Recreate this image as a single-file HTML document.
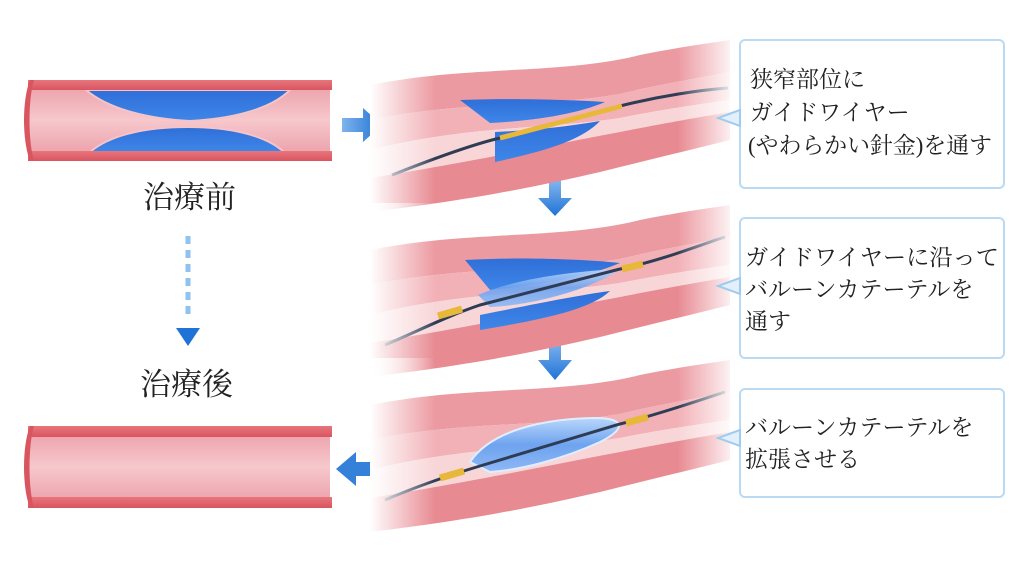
<!DOCTYPE html>
<html><head><meta charset="utf-8"><style>
body{margin:0;background:#fff;}
svg{display:block}
.t{font-family:"Liberation Serif","Noto Serif CJK SC","Noto Sans CJK JP",serif;fill:#222;}
</style></head><body>
<svg width="1024" height="568" viewBox="0 0 1024 568" xmlns="http://www.w3.org/2000/svg">
<defs>
<linearGradient id="wall" x1="0" y1="0" x2="0" y2="1"><stop offset="0" stop-color="#e8757c"/><stop offset="1" stop-color="#d95560"/></linearGradient>
<linearGradient id="lumen" x1="0" y1="0" x2="0" y2="1"><stop offset="0" stop-color="#eb9aa5"/><stop offset="0.5" stop-color="#f6c8cc"/><stop offset="1" stop-color="#eb9aa5"/></linearGradient>
<linearGradient id="plq" x1="0" y1="0" x2="0" y2="1"><stop offset="0" stop-color="#2f6fd8"/><stop offset="1" stop-color="#3f86e8"/></linearGradient>
<linearGradient id="fadeL" x1="0" y1="0" x2="1" y2="0"><stop offset="0" stop-color="#fff" stop-opacity="1"/><stop offset="0.18" stop-color="#fff" stop-opacity="0"/><stop offset="0.85" stop-color="#fff" stop-opacity="0"/><stop offset="1" stop-color="#fff" stop-opacity="0.9"/></linearGradient>
<linearGradient id="arr" x1="0" y1="0" x2="1" y2="0"><stop offset="0" stop-color="#7fb3ea"/><stop offset="1" stop-color="#1f73d6"/></linearGradient>
<linearGradient id="arrD" x1="0" y1="0" x2="0" y2="1"><stop offset="0" stop-color="#8fbdf0"/><stop offset="1" stop-color="#1f73d6"/></linearGradient>
<linearGradient id="bal" x1="0" y1="0" x2="0" y2="1"><stop offset="0" stop-color="#b9d6fb"/><stop offset="0.5" stop-color="#6ea3ef"/><stop offset="1" stop-color="#8fb8f5"/></linearGradient>
<g id="vessel">
  <path d="M370 85 C470 65 560 75 640 55 C680 47 710 43 730 40 L730 72 C700 78 660 84 620 94 C540 108 470 100 370 120 Z" fill="#ec9aa1"/>
  <path d="M370 120 C470 100 540 108 620 94 C660 84 700 78 730 72 L730 100 C700 104 660 110 620 118 C540 130 470 125 370 150 Z" fill="#f2b1b7"/>
  <path d="M370 150 C470 125 540 130 620 118 C660 110 700 104 730 100 L730 112 C700 117 660 124 620 132 C540 147 470 162 370 178 Z" fill="#f8d6d8"/>
  <path d="M370 178 C470 162 540 147 620 132 C660 124 700 117 730 112 L730 140 C690 150 640 162 600 172 C530 188 470 200 370 212 Z" fill="#e88a92"/>
</g>
</defs>

<!-- left top vessel -->
<rect x="28" y="80" width="302" height="80" fill="url(#lumen)"/>
<path d="M86 90 L290 90 C270 110 230 119 190 121 C150 119 110 110 86 90 Z" fill="url(#plq)" stroke="#f5c4c9" stroke-width="2"/>
<path d="M90 152 L284 152 C265 135 230 127 188 127 C145 127 110 135 90 152 Z" fill="url(#plq)" stroke="#f5c4c9" stroke-width="2"/>
<rect x="28" y="80" width="304" height="10" fill="url(#wall)"/>
<rect x="28" y="151" width="304" height="10" fill="url(#wall)"/>
<path d="M30 80 C22 100 22 140 30 161 L34 161 C28 140 28 100 34 80 Z" fill="#d9555f"/>
<text class="t" x="143" y="208" font-size="31">治療前</text>
<line x1="188" y1="236" x2="188" y2="320" stroke="#8fc2ef" stroke-width="5" stroke-dasharray="8,6"/>
<path d="M176 328 L200 328 L188 346 Z" fill="#1f73d6"/>
<text class="t" x="140" y="395" font-size="31">治療後</text>
<!-- left bottom vessel -->
<rect x="28" y="426" width="302" height="82" fill="url(#lumen)"/>
<rect x="28" y="426" width="304" height="11" fill="url(#wall)"/>
<rect x="28" y="497" width="304" height="11" fill="url(#wall)"/>
<path d="M30 426 C22 446 22 488 30 508 L34 508 C28 488 28 446 34 426 Z" fill="#d9555f"/>
<!-- arrows -->
<path d="M342 118 L363 118 L363 108 L382 125 L363 142 L363 132 L342 132 Z" fill="url(#arr)"/>
<path d="M378 462 L356 462 L356 452 L336 469 L356 486 L356 476 L378 476 Z" fill="#1f73d6" opacity="0.9"/>
<path d="M549 176 L561 176 L561 198 L572 198 L555 216 L538 198 L549 198 Z" fill="url(#arrD)"/>
<path d="M549 336 L561 336 L561 360 L572 360 L555 380 L538 360 L549 360 Z" fill="url(#arrD)"/>

<!-- right vessels -->
<g>
 <use href="#vessel"/>
 <path d="M460 100 C520 98 570 100 605 102 C575 115 530 121 490 123 Z" fill="url(#plq)"/>
 <path d="M495 132 C540 130 570 126 600 121 C580 142 540 152 495 162 Z" fill="url(#plq)"/>
 <path d="M392 175 C430 160 470 145 500 138 L620 106 C660 96 700 90 728 88" fill="none" stroke="#2e3d55" stroke-width="3"/>
 <path d="M500 138 L622 106" stroke="#e8b83a" stroke-width="5"/>
 <rect x="370" y="38" width="362" height="180" fill="url(#fadeL)"/>
</g>
<g transform="translate(0,165)">
 <use href="#vessel"/>
 <path d="M465 95 C520 92 580 94 620 98 C580 115 520 122 490 125 Z" fill="url(#plq)"/>
 <path d="M480 150 C540 138 580 130 610 126 C590 145 540 155 480 165 Z" fill="url(#plq)"/>
 <path d="M478 130 C520 112 580 106 620 104 C600 120 540 140 490 142 Z" fill="url(#bal)" opacity="0.9"/>
 <path d="M385 180 C420 165 450 150 480 140 L620 104 C660 96 700 80 725 72" fill="none" stroke="#2e3d55" stroke-width="3"/>
 <path d="M438 151 L462 144" stroke="#e8b83a" stroke-width="7"/>
 <path d="M622 104 L643 99" stroke="#e8b83a" stroke-width="7"/>
 <rect x="370" y="38" width="362" height="180" fill="url(#fadeL)"/>
</g>
<g transform="translate(0,320)">
 <use href="#vessel"/>
 <path d="M470 142 C490 112 540 98 600 98 C630 100 620 112 600 122 C560 140 520 150 490 152 Z" fill="url(#bal)" stroke="#dfeeff" stroke-width="2"/>
 <path d="M385 180 C420 165 450 155 480 146 L620 104 C660 94 700 80 725 72" fill="none" stroke="#2e3d55" stroke-width="3"/>
 <path d="M440 158 L464 151" stroke="#e8b83a" stroke-width="7"/>
 <path d="M626 103 L648 97" stroke="#e8b83a" stroke-width="7"/>
 <rect x="370" y="38" width="362" height="180" fill="url(#fadeL)"/>
</g>

<!-- boxes -->
<g fill="#fff" stroke="#b9daf2" stroke-width="2">
 <rect x="740" y="40" width="264" height="148" rx="5"/>
 <rect x="740" y="218" width="264" height="140" rx="5"/>
 <rect x="740" y="389" width="264" height="108" rx="5"/>
</g>
<g fill="#e3f0fb" stroke="#9fcbef" stroke-width="2">
 <path d="M740 110 L718 118 L740 126 Z"/>
 <path d="M740 278 L718 286 L740 294 Z"/>
 <path d="M740 430 L718 438 L740 446 Z"/>
</g>
<g class="t" font-size="23">
 <text x="750" y="87">狭窄部位に</text>
 <text x="750" y="120">ガイドワイヤー</text>
 <text x="748" y="153" textLength="244" lengthAdjust="spacingAndGlyphs">(やわらかい針金)を通す</text>
 <text x="745" y="265" textLength="254" lengthAdjust="spacingAndGlyphs">ガイドワイヤーに沿って</text>
 <text x="745" y="297">バルーンカテーテルを</text>
 <text x="745" y="329">通す</text>
 <text x="745" y="435">バルーンカテーテルを</text>
 <text x="745" y="467">拡張させる</text>
</g>
</svg>
</body></html>
